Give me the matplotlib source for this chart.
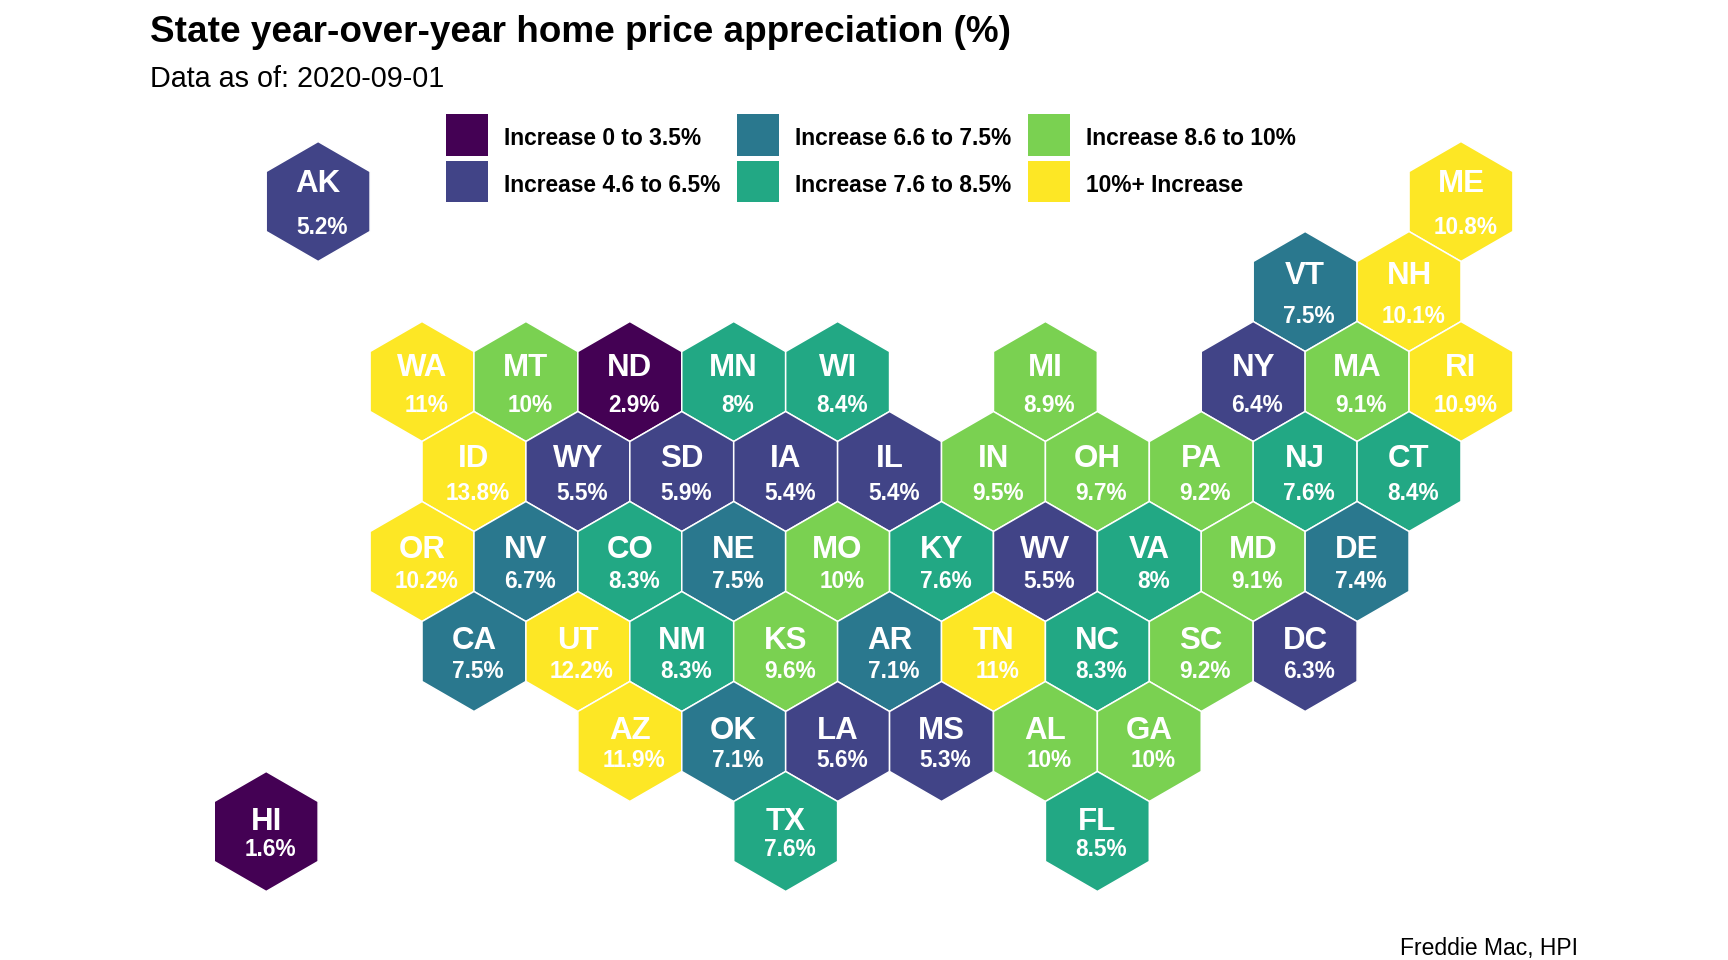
import matplotlib
matplotlib.use("Agg")
import matplotlib.pyplot as plt
import numpy as np
from matplotlib.patches import Patch

plt.rcParams["font.family"] = ["Liberation Sans", "DejaVu Sans"]

# tile grid: half-hex columns, rows from the top
states = ["AK", "ME",
          "VT", "NH",
          "WA", "MT", "ND", "MN", "WI", "MI", "NY", "MA", "RI",
          "ID", "WY", "SD", "IA", "IL", "IN", "OH", "PA", "NJ", "CT",
          "OR", "NV", "CO", "NE", "MO", "KY", "WV", "VA", "MD", "DE",
          "CA", "UT", "NM", "KS", "AR", "TN", "NC", "SC", "DC",
          "AZ", "OK", "LA", "MS", "AL", "GA",
          "HI", "TX", "FL"]
grid_col = [1, 23,
            20, 22,
            3, 5, 7, 9, 11, 15, 19, 21, 23,
            4, 6, 8, 10, 12, 14, 16, 18, 20, 22,
            3, 5, 7, 9, 11, 13, 15, 17, 19, 21,
            4, 6, 8, 10, 12, 14, 16, 18, 20,
            7, 9, 11, 13, 15, 17,
            0, 10, 16]
grid_row = [0, 0,
            1, 1,
            2, 2, 2, 2, 2, 2, 2, 2, 2,
            3, 3, 3, 3, 3, 3, 3, 3, 3, 3,
            4, 4, 4, 4, 4, 4, 4, 4, 4, 4,
            5, 5, 5, 5, 5, 5, 5, 5, 5,
            6, 6, 6, 6, 6, 6,
            7, 7, 7]
yoy_pct = [5.2, 10.8,
           7.5, 10.1,
           11, 10, 2.9, 8, 8.4, 8.9, 6.4, 9.1, 10.9,
           13.8, 5.5, 5.9, 5.4, 5.4, 9.5, 9.7, 9.2, 7.6, 8.4,
           10.2, 6.7, 8.3, 7.5, 10, 7.6, 5.5, 8, 9.1, 7.4,
           7.5, 12.2, 8.3, 9.6, 7.1, 11, 8.3, 9.2, 6.3,
           11.9, 7.1, 5.6, 5.3, 10, 10,
           1.6, 7.6, 8.5]

bin_edges = [3.5, 6.5, 7.5, 8.5, 10]
bin_labels = ["Increase 0 to 3.5%", "Increase 4.6 to 6.5%", "Increase 6.6 to 7.5%",
              "Increase 7.6 to 8.5%", "Increase 8.6 to 10%", "10%+ Increase"]
bin_colors = ["#440154", "#414487", "#2A788E", "#22A884", "#7AD151", "#FDE725"]

# text offsets from the hex centre, by row (grid units)
label_dy = [-0.196, -0.175, -0.153, -0.139, -0.131, -0.119, -0.111, -0.103]
value_dy = [0.29, 0.275, 0.27, 0.245, 0.225, 0.221, 0.213, 0.205]

hex_x = [0, 1, 1, 0, -1, -1]
hex_y = [-2 / 3, -1 / 3, 1 / 3, 2 / 3, 1 / 3, -1 / 3]

fig = plt.figure(figsize=(17.28, 9.6), dpi=100)
ax = fig.add_axes([0, 0, 1, 1])
ax.set_xlim(-5.124, 28.14)
ax.set_ylim(8.428, -2.239)
ax.axis("off")

classes = np.digitize(yoy_pct, bin_edges, right=True)
for st, c, r, v, k in zip(states, grid_col, grid_row, yoy_pct, classes):
    ax.fill(np.add(hex_x, c), np.add(hex_y, r), facecolor=bin_colors[k],
            edgecolor="white", linewidth=1.1)
    ax.text(c, r + label_dy[r], st, color="white", fontsize=22.5, fontweight="bold",
            ha="center", va="center")
    ax.text(c + 0.08, r + value_dy[r], f"{v:g}%", color="white", fontsize=16.3,
            fontweight="bold", ha="center", va="center")

handles = [Patch(facecolor=col, edgecolor="none") for col in bin_colors]
leg = ax.legend(handles, bin_labels, ncol=3, frameon=False, loc="upper left",
                bbox_to_anchor=(446 / 1728, 1 - 114 / 960), borderaxespad=0, borderpad=0,
                prop={"size": 16.35, "weight": "bold"},
                handlelength=1.83, handleheight=2.44, handletextpad=0.74,
                labelspacing=0.22, columnspacing=0.72)
# labels sit a little below the swatch centre
for t in leg.get_texts():
    t.set_y(-3.5)

fig.text(150 / 1728, 1 - 33 / 960, "State year-over-year home price appreciation (%)",
         fontsize=26.6, fontweight="bold", ha="left", va="center")
fig.text(150 / 1728, 1 - 79 / 960, "Data as of: 2020-09-01", fontsize=20.7,
         ha="left", va="center")
fig.text(1578 / 1728, 1 - 949 / 960, "Freddie Mac, HPI", fontsize=16.5,
         ha="right", va="center")

fig.savefig("out.png", dpi=100, facecolor="white")
